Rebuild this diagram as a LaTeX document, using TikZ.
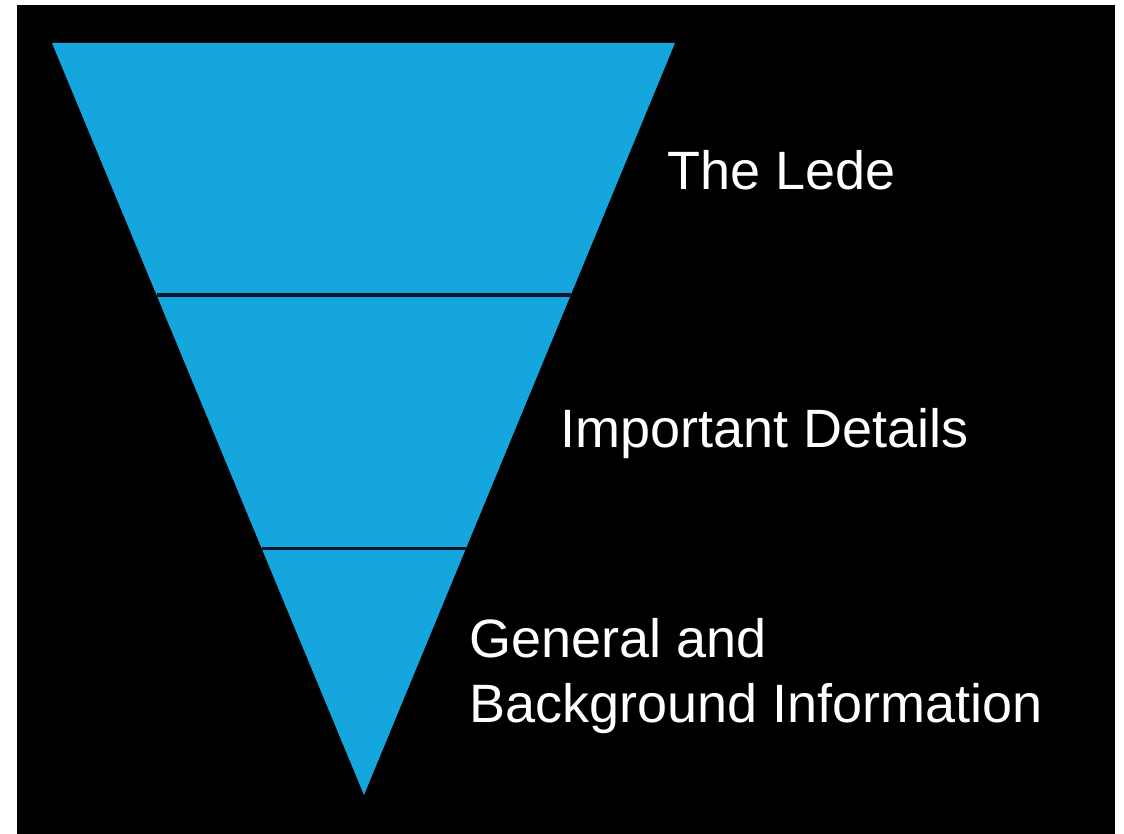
\documentclass[tikz,border=0pt]{standalone}
\usepackage{fontspec}
\setmainfont{Liberation Sans}
\definecolor{funnelblue}{RGB}{21,166,221}
\definecolor{divider}{RGB}{10,22,48}
\tikzset{
  label text/.style={text=white, inner sep=0pt, anchor=base west, font=\fontsize{54}{65}\selectfont, align=left},
  divider line/.style={draw=divider, line width=3pt}
}
\begin{document}
\begin{tikzpicture}[x=1pt,y=-1pt]
\useasboundingbox (0,0) rectangle (1124,834);
\fill[white] (0,0) rectangle (1124,834);
\fill[black] (17,5) rectangle (1115,834);
\coordinate (tl) at (52,43);
\coordinate (tr) at (675,43);
\coordinate (apex) at (364,795);
\fill[funnelblue] (tl) -- (tr) -- (apex) -- cycle;
\coordinate (a1) at (156.6,295);
\coordinate (b1) at (570.8,295);
\coordinate (a2) at (261.5,548);
\coordinate (b2) at (466.2,548);
\draw[divider line] (a1) -- (b1);
\draw[divider line] (a2) -- (b2);
\node[label text] (lede) at (667,190) {The Lede};
\node[label text] (details) at (560,447) {Important Details};
\node[label text] (general) at (469,722) {General and\\Background Information};
\end{tikzpicture}
\end{document}
